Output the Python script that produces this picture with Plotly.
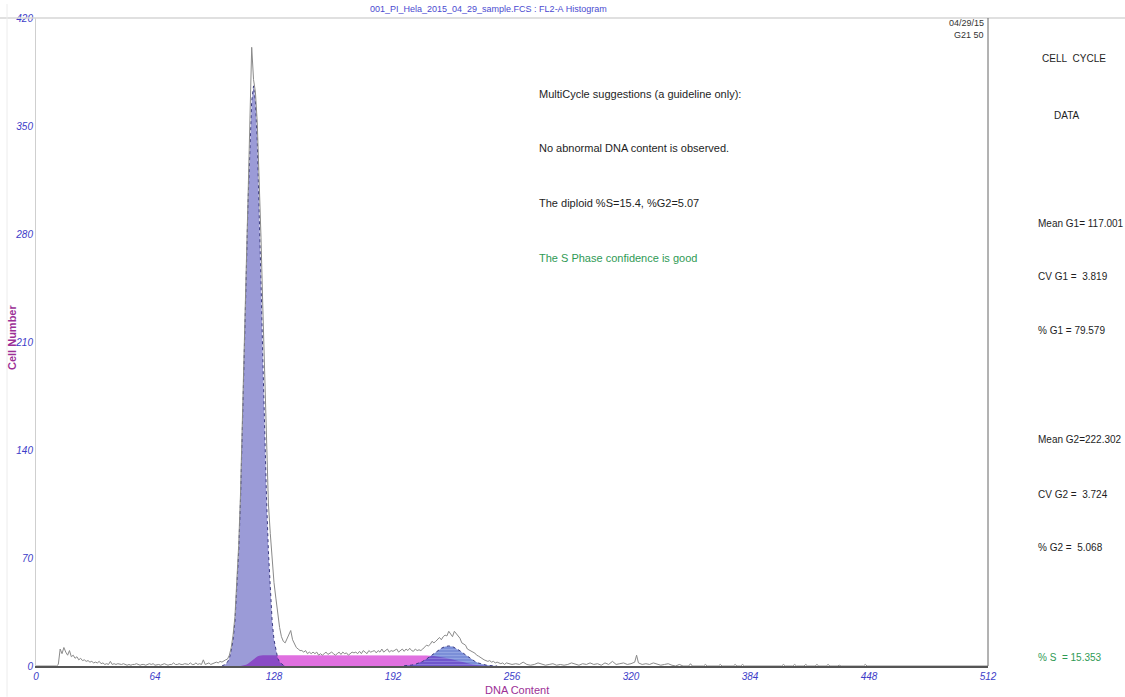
import numpy as np
import plotly.graph_objects as go

# ---------------- data ----------------
# Raw histogram counts, one value per channel 0..255
raw_counts_low = [
    0, 0, 0, 0, 0, 0, 0, 0, 0, 0, 0, 0, 1, 11, 8, 12,
    9, 7, 10, 6, 7, 5, 6, 4, 5, 3.5, 4, 3, 3.5, 2.5, 3, 2,
    2.5, 2, 3, 1.5, 2, 1, 1.5, 1, 3, 1, 1.5, 1, 1.5, 1, 1, 1.5,
    1, 0.5, 1, 0.5, 1, 1, 1.5, 1, 0.5, 1, 1, 0.5, 1, 1.5, 1, 1.5,
    0.5, 1, 1, 0.5, 1, 1.5, 1, 0.5, 1, 1, 2, 1, 1, 1.5, 1, 1,
    1.5, 1, 1, 2, 1, 1, 2, 1, 1.5, 1, 4, 1, 1.5, 2, 1, 1.5,
    2, 2.5, 2, 3, 2.5, 3.5, 4, 4.5, 7, 12, 20, 32, 52, 78, 112, 155,
    205, 255, 302, 345, 401, 380, 372, 352, 318, 278, 232, 185, 140, 105, 86, 68,
    54, 44, 33, 25, 19, 16, 15, 18, 21, 23, 17, 14, 12, 11, 10, 10,
    9, 10, 8, 9, 8, 9, 8, 9, 7, 8, 7, 8, 9, 7.5, 8, 9,
    8, 7, 8, 9, 7.5, 9, 8, 8.5, 7, 8, 9, 8.5, 9, 8, 9.5, 8,
    10, 9, 8, 10, 9, 9.5, 10, 8.5, 10, 9, 11, 9, 10, 11, 9, 10,
    9.5, 10, 11, 9, 10, 11, 9.5, 11, 10, 11.5, 10, 9.5, 11, 10, 10.5, 10,
    11, 12, 13.5, 13, 14, 16, 15, 16, 17, 18.5, 17, 19, 20, 19.5, 22.5, 21,
    19, 22.5, 21, 20, 18, 15, 14, 13.5, 11, 10.5, 10, 9, 8.4, 7, 6.4, 5.5,
    4.5, 4, 3.5, 3, 3.5, 2.5, 3, 2, 2.5, 2, 1.5, 2, 1, 2, 1.5, 1,
]
# Sparse tail of the raw histogram, channels 256..512
raw_tail_channels = [
    256, 258, 260, 262, 264, 266, 268, 270, 272, 274, 276, 278, 280, 282, 284, 286,
    288, 290, 292, 294, 296, 298, 300, 302, 304, 306, 308, 310, 312, 314, 316, 318,
    320, 322, 323, 324, 326, 328, 330, 332, 334, 336, 338, 340, 342, 344, 346, 348,
    351, 352, 353, 359, 360, 361, 367, 368, 369, 375, 376, 377, 379, 380, 381, 401,
    402, 403, 407, 408, 409, 413, 414, 415, 419, 420, 421, 425, 426, 427, 431, 432,
    433, 445, 446, 447, 512,
]
raw_tail_counts = [
    1, 1.5, 1, 2.5, 1, 0.5, 1, 2, 1, 0.5, 1, 1.5, 0.5, 1, 0.5, 1,
    2, 1, 0.5, 1.5, 1, 2, 1, 1.5, 0.5, 2, 1, 3, 1, 1.5, 2, 1,
    1.5, 2.5, 7, 2, 1, 1.5, 1, 2, 1, 0.5, 1, 1.5, 0.5, 0, 1, 0,
    0, 1.5, 0, 0, 1, 0, 0, 1, 0, 0, 1, 0, 0, 1, 0, 0,
    1, 0, 0, 1, 0, 0, 1, 0, 0, 1, 0, 0, 1, 0, 0, 0.5,
    0, 0, 1, 0, 0,
]

# Fitted G1 component
g1_channels = list(range(100, 135))
g1_counts = [0, 0.5, 1.2, 2.6, 5, 10, 17, 29, 48, 74, 108, 150, 199, 250, 299, 340,
             366, 376, 366, 340, 299, 250, 199, 150, 108, 74, 48, 29, 17, 10, 5, 2.6,
             1.2, 0.5, 0]

# Fitted S-phase component
s_channels = [110, 112, 113, 114, 115, 116, 117, 118, 119, 120, 121, 122, 140, 160,
              180, 200, 205, 210, 214, 217, 220, 223, 226, 229, 232, 235, 238, 241, 244]
s_counts = [0, 0.3, 0.8, 1.5, 2.4, 3.5, 4.5, 5.5, 6.2, 6.6, 6.9, 7, 7, 7,
            7, 7, 7, 6.8, 6.5, 6.1, 5.4, 4.5, 3.5, 2.5, 1.7, 1.0, 0.5, 0.2, 0]

# Fitted G2 component
g2_channels = list(range(198, 250, 2))
g2_counts = [0.2, 0.3, 0.6, 1.1, 1.9, 3.0, 4.5, 6.2, 8.1, 9.9, 11.5, 12.6, 13,
             12.6, 11.5, 9.9, 8.1, 6.2, 4.5, 3.0, 1.9, 1.1, 0.6, 0.3, 0.2, 0]

x_ticks = [0, 64, 128, 192, 256, 320, 384, 448, 512]
y_ticks = [0, 70, 140, 210, 280, 350, 420]

suggestions = [
    "MultiCycle suggestions (a guideline only):",
    "No abnormal DNA content is observed.",
    "The diploid %S=15.4, %G2=5.07",
    "The S Phase confidence is good",
]
stats_lines = [
    "Mean G1= 117.001",
    "CV G1 =\u00a0 3.819",
    "% G1 = 79.579",
    "Mean G2=222.302",
    "CV G2 =\u00a0 3.724",
    "% G2 =\u00a0 5.068",
    "% S\u00a0 = 15.353",
]

# ---------------- layout geometry ----------------
W, H = 1125, 697
ML, MR, MT, MB = 36, 137, 14, 31
PW, PH = W - ML - MR, H - MT - MB


def px(x):
    return (x - ML) / PW


def py(y):
    return 1 - (y - MT) / PH


TEXT_FONT = "Liberation Sans Narrow, Arial Narrow, Liberation Sans, Arial, sans-serif"
BLACK = "#1e1e1e"
GREEN = "#2f9a55"
TICK_BLUE = "#3d3dc8"
PURPLE = "#9c2f96"

raw_x = list(range(len(raw_counts_low))) + raw_tail_channels
raw_y = raw_counts_low + raw_tail_counts

fig = go.Figure()

# S-phase
fig.add_trace(go.Scatter(
    x=s_channels, y=s_counts, mode="lines", fill="tozeroy",
    fillcolor="#e070e0", line=dict(width=0), hoverinfo="skip", showlegend=False,
))
# G1 peak (translucent so the S-phase shows through as purple)
fig.add_trace(go.Scatter(
    x=g1_channels, y=g1_counts, mode="lines", fill="tozeroy",
    fillcolor="rgba(30,30,165,0.444)",
    line=dict(color="#3a3a80", width=1, dash="dot"), hoverinfo="skip", showlegend=False,
))
# G2 peak (hatched)
fig.add_trace(go.Scatter(
    x=g2_channels, y=g2_counts, mode="lines", fill="tozeroy",
    fillcolor="rgba(35,68,190,0.6)",
    fillpattern=dict(shape="-", size=3, solidity=0.3,
                     fgcolor="rgba(215,225,255,0.55)", bgcolor="rgba(35,68,190,0.6)"),
    line=dict(color="#3a3a80", width=1, dash="dot"), hoverinfo="skip", showlegend=False,
))
# raw histogram
fig.add_trace(go.Scatter(
    x=raw_x, y=raw_y, mode="lines", line=dict(color="#8a8a8a", width=1),
    hoverinfo="skip", showlegend=False,
))

tick_font = dict(family="Liberation Sans, Arial, sans-serif", size=10,
                 color=TICK_BLUE, style="italic")

fig.update_xaxes(
    range=[0, 512], tickvals=x_ticks, ticktext=[str(v) for v in x_ticks],
    tickfont=tick_font, showgrid=False, zeroline=False, ticks="",
    showline=True, linecolor="#555555", linewidth=1.5,
)
fig.update_yaxes(
    range=[0, 420], tickvals=y_ticks, ticktext=[str(v) for v in y_ticks],
    tickfont=tick_font, showgrid=False, zeroline=False, ticks="",
    showline=True, linecolor="#cfcfcf", linewidth=1,
)

shapes = [
    # top rule across the page
    dict(type="line", xref="paper", yref="paper", x0=px(0), x1=px(W), y0=1, y1=1,
         line=dict(color="#d6d6d6", width=1.5)),
    # right frame
    dict(type="line", xref="paper", yref="paper", x0=1, x1=1, y0=0, y1=1,
         line=dict(color="#666666", width=1)),
    # faint left page rule
    dict(type="line", xref="paper", yref="paper", x0=px(7), x1=px(7), y0=py(H), y1=py(0),
         line=dict(color="#ececec", width=1)),
]

annotations = []


def note(text, x, y, color=BLACK, size=11, xanchor="left", family=TEXT_FONT, **kw):
    annotations.append(dict(
        text=text, x=px(x), y=py(y), xref="paper", yref="paper",
        xanchor=xanchor, yanchor="middle", showarrow=False,
        font=dict(family=family, size=size, color=color), **kw,
    ))


# file title at the top edge
note("001_PI_Hela_2015_04_29_sample.FCS : FL2-A Histogram", 488, 5,
     color="#4a4ad0", size=9, xanchor="center")
# date / time stamp
note("04/29/15", 986, 19, color="#333333", size=9, xanchor="right")
note("G21 50", 986, 31, color="#333333", size=9, xanchor="right")

# suggestions
for i, line in enumerate(suggestions):
    note(line, 537, 90 + 55 * i, color=GREEN if i == 3 else BLACK, size=11)

# right-hand statistics panel
note("CELL\u00a0 CYCLE", 1040, 55, size=10)
note("DATA", 1052, 112, size=10)
stat_y = [221, 274, 328, 438, 493, 547, 657]
for line, y in zip(stats_lines, stat_y):
    note(line, 1036, y, color=GREEN if line.startswith("% S") else BLACK, size=10)

# axis titles
note("DNA Content", 517, 690, color=PURPLE, size=11, xanchor="center")
note("<b>Cell Number</b>", 12, 335, color=PURPLE, size=11, xanchor="center", textangle=-90)

fig.update_layout(
    width=W, height=H,
    margin=dict(l=ML, r=MR, t=MT, b=MB, pad=0),
    paper_bgcolor="white", plot_bgcolor="white",
    shapes=shapes, annotations=annotations,
    showlegend=False,
)

fig.write_html("out.html", config={"displayModeBar": False})
